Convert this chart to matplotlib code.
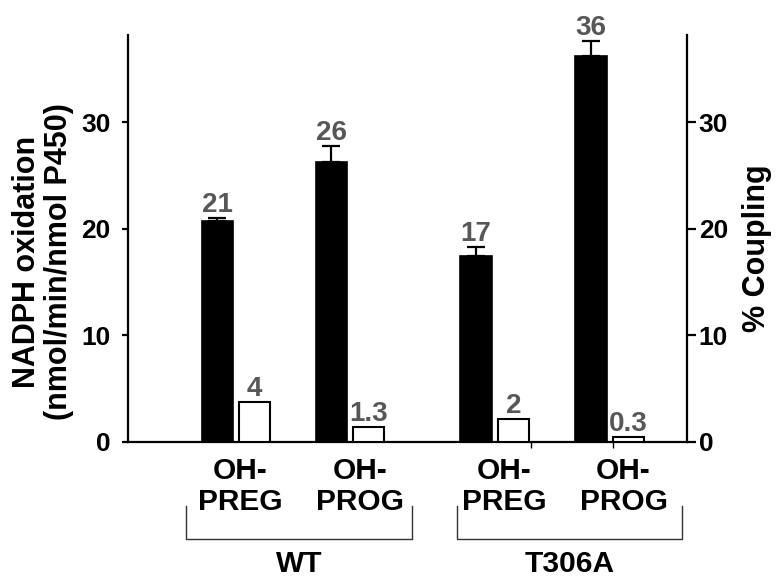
import matplotlib.pyplot as plt
import matplotlib.transforms as mtransforms
import numpy as np

plt.rcParams['font.family'] = ['Liberation Sans', 'DejaVu Sans']
plt.rcParams['font.weight'] = 'bold'

# data
groups = ['WT', 'T306A']
substrates = ['OH-\nPREG', 'OH-\nPROG', 'OH-\nPREG', 'OH-\nPROG']
nadph = [20.7, 26.3, 17.5, 36.2]
nadph_err = [0.35, 1.5, 0.8, 1.4]
coupling = [3.8, 1.4, 2.2, 0.5]
nadph_labels = ['21', '26', '17', '36']
coupling_labels = ['4', '1.3', '2', '0.3']

# layout
pos = np.array([0.0, 1.0, 2.27, 3.28])
w = 0.276
off = 0.164
label_col = '#575757'

fig = plt.figure(figsize=(7.76, 5.78), dpi=100)
ax = fig.add_axes([0.1649, 0.2353, 0.7204, 0.7042])
ax2 = ax.twinx()

ax.bar(pos - off, nadph, w, color='black', edgecolor='black', linewidth=1.2, zorder=2)
ax.errorbar(pos - off, nadph, yerr=[np.zeros(len(nadph)), nadph_err], fmt='none',
            ecolor='black', elinewidth=1.6, capsize=6.5, capthick=1.6, zorder=3)
ax2.bar(pos + off, coupling, w, color='white', edgecolor='black', linewidth=1.5, zorder=2)

for x, y, e, t in zip(pos - off, nadph, nadph_err, nadph_labels):
    ax.text(x, y + e, t, ha='center', va='bottom', fontsize=20, color=label_col)
for x, y, t in zip(pos + off, coupling, coupling_labels):
    ax2.text(x, y, t, ha='center', va='bottom', fontsize=20, color=label_col)

for a in (ax, ax2):
    a.set_ylim(0, 38.2)
    a.set_xlim(-0.947, 3.956)
    a.set_yticks([0, 10, 20, 30])
    a.spines['top'].set_visible(False)
    for s in a.spines.values():
        s.set_linewidth(1.6)

ax.spines['right'].set_visible(False)
ax2.spines['left'].set_visible(False)
ax2.spines['bottom'].set_visible(False)

ax.tick_params(axis='y', labelsize=19, width=1.6, length=4.5, pad=8)
ax2.tick_params(axis='y', labelsize=19, width=1.6, length=6.5, pad=2)

# category labels
ax.set_xticks([0.035, 1.088, 2.35, 3.40])
ax.set_xticklabels(substrates, fontsize=21.5, linespacing=1.12)
ax.tick_params(axis='x', length=0, pad=11)
ax.set_xticks([2.588, 3.307], minor=True)
ax.tick_params(axis='x', which='minor', length=4, width=1)

# group brackets
tr = mtransforms.blended_transform_factory(ax.transData, ax.transAxes)
spans = [(-0.44, 1.544), (1.94, 3.91)]
for g, (x0, x1) in zip(groups, spans):
    ax.plot([x0, x0, x1, x1], [-0.157, -0.238, -0.238, -0.157], color='#333333',
            lw=1, transform=tr, clip_on=False)
    ax.text((x0 + x1) / 2, -0.30, g, transform=tr, ha='center', va='center', fontsize=21.5)

fig.text(43 / 776, 1 - 262 / 578, 'NADPH oxidation\n(nmol/min/nmol P450)', rotation=90,
         ha='center', va='center', fontsize=22, linespacing=1.05, multialignment='center')
fig.text(757 / 776, 1 - 248 / 578, '% Coupling', rotation=90, ha='center', va='center',
         fontsize=22)

fig.savefig('out.png', dpi=100)
